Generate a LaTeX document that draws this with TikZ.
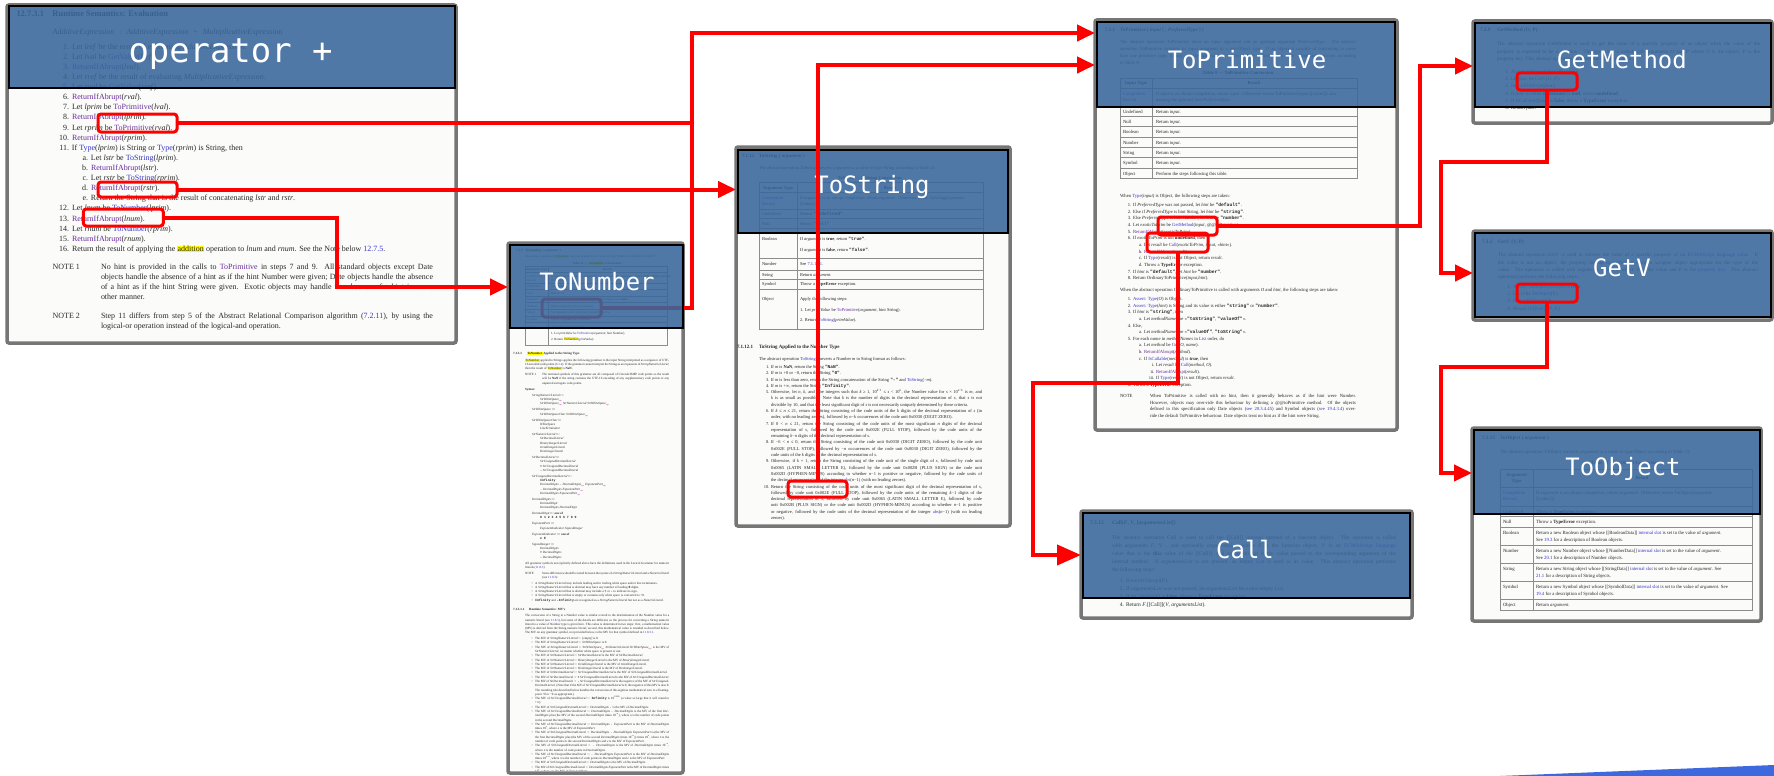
\documentclass[tikz,border=0pt]{standalone}
\usepackage{fontspec}
\setmainfont{Liberation Serif}
\newfontfamily\labelfont{DejaVu Sans Mono}
\newfontfamily\codefont{Liberation Mono}
\usetikzlibrary{arrows.meta}

\definecolor{ink}{RGB}{40,40,40}
\definecolor{lnk}{RGB}{52,52,200}
\definecolor{vis}{RGB}{105,45,155}
\definecolor{optc}{RGB}{190,40,150}
\definecolor{pageedge}{RGB}{118,118,118}
\definecolor{pagebg}{RGB}{251,251,250}
\definecolor{cover}{RGB}{56,103,156}
\definecolor{hilite}{RGB}{255,250,0}
\definecolor{wedge}{RGB}{62,104,222}
\definecolor{rule}{RGB}{140,140,140}

% inline markup of the specification pages
\newcommand\slink[1]{\textcolor{lnk}{#1}}
\newcommand\svis[1]{\textcolor{vis}{#1}}
\newcommand\scode[1]{{\codefont\bfseries #1}}
\newcommand\snum[1]{\llap{#1\hspace{0.36em}}}
\newcommand\sjust[2]{\makebox[#1bp][s]{#2}}
\newcommand\shl[1]{{\setlength{\fboxsep}{0.3bp}\colorbox{hilite}{#1}}}
\newcommand\sfont[2]{\fontsize{#1}{#2}\selectfont}
\newcommand\secno[2]{\makebox[#1bp][l]{#2}}
\newcommand\opt{\textsubscript{\textcolor{optc}{opt}}}
\newcommand\tnl[1]{\par\vspace{1.6bp}{\leftskip=19bp\noindent #1\par}}
\newcommand\tnr[1]{{\leftskip=27bp\noindent #1\par}}
\newcommand\tnb[1]{{\leftskip=22bp\noindent\llap{\textbullet\hspace{2.5bp}}#1\par}}

% font sizes of the individual pages
\newcommand\fOp{\sfont{8.0}{10}}
\newcommand\fTP{\sfont{4.7}{6.7}}
\newcommand\fGM{\sfont{5.1}{7.3}}
\newcommand\fCall{\sfont{5.5}{8}}
\newcommand\fTO{\sfont{4.8}{6}}
\newcommand\fTS{\sfont{4.5}{6}}
\newcommand\fTN{\sfont{3.2}{4.3}}

% one text line per list item, baselines dy apart
\newcommand\textlines[6]{%
  \foreach \lntxt [count=\lnidx from 0] in {#6}{%
    \node[ln, font=#2] (#1\lnidx) at ({#3},{#4+#5*\lnidx}) {\lntxt};}}
% table rows: y / first column / second column
\newcommand\tablerows[5]{%
  \foreach \rowy/\rowa/\rowb [count=\rowk] in {#5}{%
    \node[ln, font=#2] (#1a\rowk) at ({#3},{\rowy}) {\rowa};
    \node[ln, font=#2] (#1b\rowk) at ({#4},{\rowy}) {\rowb};}}

\tikzset{
  page/.style={draw=pageedge, line width=3.5bp, fill=pagebg, rounded corners=2bp,
    inner sep=0, outer sep=0, anchor=north west},
  coverbox/.style={draw=black, line width=2bp, fill=cover, fill opacity=0.88,
    draw opacity=1, inner sep=0, outer sep=0, anchor=north west},
  lbl/.style={anchor=base, text=white, inner sep=0},
  ln/.style={anchor=base west, inner sep=0, outer sep=0, text=ink},
  ctr/.style={anchor=base, inner sep=0, outer sep=0, text=ink},
  tbl/.style={draw=rule, line width=0.5bp},
  hl/.style={draw=red, line width=3bp, rounded corners=3bp, inner sep=0, outer sep=0},
  conn/.style={draw=red, line width=4bp},
  tip/.style={-{Triangle[length=18bp,width=16bp]}},
  tipbig/.style={-{Triangle[length=24bp,width=20bp]}},
  tnbody/.style={anchor=north west, inner sep=0, text width=156bp, align=justify,
    font=\fTN, text=ink}
}

\begin{document}
\begin{tikzpicture}[x=1bp, y=-1bp]
\useasboundingbox (0,0) rectangle (1774,776);
\fill[white] (0,0) rectangle (1774,776);

% ---------------- pages ----------------
\node[page, minimum width=449bp, minimum height=338bp] (pOp) at (7,5) {};
\node[page, minimum width=175bp, minimum height=530bp] (pTN) at (508,243) {};
\node[page, minimum width=274bp, minimum height=379bp] (pTS) at (736,147) {};
\node[page, minimum width=302bp, minimum height=410bp] (pTP) at (1095,20) {};
\node[page, minimum width=331bp, minimum height=107bp] (pCall) at (1081,511) {};
\node[page, minimum width=299bp, minimum height=102bp] (pGM) at (1473,21) {};
\node[page, minimum width=299bp, minimum height=89bp] (pGV) at (1473,231) {};
\node[page, minimum width=289bp, minimum height=193bp] (pTO) at (1472,428) {};

% ---------------- 12.7.3.1 Runtime Semantics: Evaluation ----------------
\node[ln, font=\sfont{8.5}{10}\bfseries] (opH) at (16.5,16.3) {\secno{36}{12.7.3.1}Runtime Semantics: Evaluation};
\node[ln, font=\fOp] (opG) at (52.7,35) {\emph{AdditiveExpression}\hspace{5bp}:\hspace{5bp}\emph{AdditiveExpression}\hspace{5bp}+\hspace{5bp}\emph{MultiplicativeExpression}};
\textlines{op}{\fOp}{72}{49.2}{10.11}{
  {\snum{1.}Let \emph{lref} be the result of evaluating \emph{AdditiveExpression}.},
  {\snum{2.}Let \emph{lval} be \slink{GetValue}(\emph{lref}).},
  {\snum{3.}\svis{ReturnIfAbrupt}(\emph{lval}).},
  {\snum{4.}Let \emph{rref} be the result of evaluating \emph{MultiplicativeExpression}.},
  {\snum{5.}Let \emph{rval} be \slink{GetValue}(\emph{rref}).},
  {\snum{6.}\svis{ReturnIfAbrupt}(\emph{rval}).},
  {\snum{7.}Let \emph{lprim} be \svis{ToPrimitive}(\emph{lval}).},
  {\snum{8.}\svis{ReturnIfAbrupt}(\emph{lprim}).},
  {\snum{9.}Let \emph{rprim} be \svis{ToPrimitive}(\emph{rval}).},
  {\snum{10.}\svis{ReturnIfAbrupt}(\emph{rprim}).},
  {\snum{11.}If \slink{Type}(\emph{lprim}) is String or \slink{Type}(\emph{rprim}) is String, then},
  {\hspace*{19bp}\snum{a.}Let \emph{lstr} be \slink{ToString}(\emph{lprim}).},
  {\hspace*{19bp}\snum{b.}\svis{ReturnIfAbrupt}(\emph{lstr}).},
  {\hspace*{19bp}\snum{c.}Let \emph{rstr} be \slink{ToString}(\emph{rprim}).},
  {\hspace*{19bp}\snum{d.}\svis{ReturnIfAbrupt}(\emph{rstr}).},
  {\hspace*{19bp}\snum{e.}Return the String that is the result of concatenating \emph{lstr} and \emph{rstr}.},
  {\snum{12.}Let \emph{lnum} be \slink{ToNumber}(\emph{lprim}).},
  {\snum{13.}\svis{ReturnIfAbrupt}(\emph{lnum}).},
  {\snum{14.}Let \emph{rnum} be \slink{ToNumber}(\emph{rprim}).},
  {\snum{15.}\svis{ReturnIfAbrupt}(\emph{rnum}).},
  {\snum{16.}Return the result of applying the \shl{addition} operation to \emph{lnum} and \emph{rnum}. See the Note below \slink{12.7.5}.}}
\node[ln, font=\fOp] (opN1) at (52.7,269.8) {NOTE 1};
\textlines{opa}{\fOp}{101}{269.8}{10}{
  {\sjust{332}{No hint is provided in the calls to \svis{ToPrimitive} in steps 7 and 9. All standard objects except Date}},
  {\sjust{332}{objects handle the absence of a hint as if the hint Number were given; Date objects handle the absence}},
  {\sjust{332}{of a hint as if the hint String were given. Exotic objects may handle the absence of a hint in some}},
  {other manner.}}
\node[ln, font=\fOp] (opN2) at (52.7,318.2) {NOTE 2};
\textlines{opb}{\fOp}{101}{318.2}{10}{
  {\sjust{332}{Step 11 differs from step 5 of the Abstract Relational Comparison algorithm (\slink{7.2.11}), by using the}},
  {logical-or operation instead of the logical-and operation.}}

% ---------------- 7.1.1 ToPrimitive ----------------
\node[ln, font=\sfont{5.1}{6}\bfseries] (tpH) at (1105,32) {\secno{15}{7.1.1}ToPrimitive ( \emph{input} [ , \emph{PreferredType} ] )};
\textlines{tpp}{\fTP}{1120}{44}{6.67}{
  {\sjust{236}{The abstract operation ToPrimitive takes an \emph{input} argument and an optional argument \emph{PreferredType}. The abstract}},
  {\sjust{236}{operation ToPrimitive converts its \emph{input} argument to a non-Object type. If an object is capable of converting to more}},
  {\sjust{236}{than one primitive type, it may use the optional hint \emph{PreferredType} to favour that type. Conversion occurs according}},
  {to Table 9:}}
\node[ctr, font=\sfont{4.8}{6}\bfseries] (tpCap) at (1238,75) {Table 9 — ToPrimitive Conversion};
\draw[tbl] (1120,78) rectangle (1357,178);
\draw[tbl] (1152,78) -- (1152,178);
\foreach \yy in {88,106,116,126,137,147,157,168} \draw[tbl] (1120,\yy) -- (1357,\yy);
\node[ctr, font=\fTP\bfseries] (tpTh1) at (1136,85) {Input Type};
\node[ctr, font=\fTP\bfseries] (tpTh2) at (1254,85) {Result};
\tablerows{tpt}{\fTP}{1123}{1156}{
  95/{\slink{Completion}}/{If \emph{input} is an abrupt completion, return \emph{input}. Otherwise return ToPrimitive(\emph{input}.[[value]]) also},
  101.5/{\slink{Record}}/{passing the optional hint \emph{PreferredType}.},
  113/Undefined/{Return \emph{input}.},
  123/Null/{Return \emph{input}.},
  133.5/Boolean/{Return \emph{input}.},
  144/Number/{Return \emph{input}.},
  154/String/{Return \emph{input}.},
  164.5/Symbol/{Return \emph{input}.},
  175/Object/{Perform the steps following this table.}}
\node[ln, font=\fTP] (tpW1) at (1120,197.5) {When \slink{Type}(\emph{input}) is Object, the following steps are taken:};
\textlines{tps}{\fTP}{1133}{206.6}{6.67}{
  {\snum{1.}If \emph{PreferredType} was not passed, let \emph{hint} be \scode{"default"}.},
  {\snum{2.}Else if \emph{PreferredType} is hint String, let \emph{hint} be \scode{"string"}.},
  {\snum{3.}Else \emph{PreferredType} is hint Number, let \emph{hint} be \scode{"number"}.},
  {\snum{4.}Let \emph{exoticToPrim} be \slink{GetMethod}(\emph{input}, @@toPrimitive).},
  {\snum{5.}\svis{ReturnIfAbrupt}(\emph{exoticToPrim}).},
  {\snum{6.}If \emph{exoticToPrim} is not \textbf{undefined}, then},
  {\hspace*{11bp}\snum{a.}Let \emph{result} be \slink{Call}(\emph{exoticToPrim}, \emph{input}, «\emph{hint}»).},
  {\hspace*{11bp}\snum{b.}\svis{ReturnIfAbrupt}(\emph{result}).},
  {\hspace*{11bp}\snum{c.}If \slink{Type}(\emph{result}) is not Object, return \emph{result}.},
  {\hspace*{11bp}\snum{d.}Throw a \textbf{TypeError} exception.},
  {\snum{7.}If \emph{hint} is \scode{"default"}, let \emph{hint} be \scode{"number"}.},
  {\snum{8.}Return OrdinaryToPrimitive(\emph{input},\emph{hint}).}}
\node[ln, font=\fTP] (tpW2) at (1120,291.6) {When the abstract operation OrdinaryToPrimitive is called with arguments \emph{O} and \emph{hint}, the following steps are taken:};
\textlines{tpo}{\fTP}{1133}{300.6}{6.615}{
  {\snum{1.}\slink{Assert}: \slink{Type}(\emph{O}) is Object.},
  {\snum{2.}\slink{Assert}: \slink{Type}(\emph{hint}) is String and its value is either \scode{"string"} or \scode{"number"}.},
  {\snum{3.}If \emph{hint} is \scode{"string"}, then},
  {\hspace*{11bp}\snum{a.}Let \emph{methodNames} be «\scode{"toString"}, \scode{"valueOf"}».},
  {\snum{4.}Else,},
  {\hspace*{11bp}\snum{a.}Let \emph{methodNames} be «\scode{"valueOf"}, \scode{"toString"}».},
  {\snum{5.}For each \emph{name} in \emph{methodNames} in \slink{List} order, do},
  {\hspace*{11bp}\snum{a.}Let \emph{method} be \slink{Get}(\emph{O}, \emph{name}).},
  {\hspace*{11bp}\snum{b.}\svis{ReturnIfAbrupt}(\emph{method}).},
  {\hspace*{11bp}\snum{c.}If \slink{IsCallable}(\emph{method}) is \textbf{true}, then},
  {\hspace*{23bp}\snum{i.}Let \emph{result} be \slink{Call}(\emph{method}, \emph{O}).},
  {\hspace*{23bp}\snum{ii.}\svis{ReturnIfAbrupt}(\emph{result}).},
  {\hspace*{23bp}\snum{iii.}If \slink{Type}(\emph{result}) is not Object, return \emph{result}.},
  {\snum{6.}Throw a \textbf{TypeError} exception.}}
\node[ln, font=\fTP] (tpNote) at (1120,397.6) {NOTE};
\textlines{tpn}{\fTP}{1150}{397.6}{6.67}{
  {\sjust{206}{When ToPrimitive is called with no hint, then it generally behaves as if the hint were Number.}},
  {\sjust{206}{However, objects may over-ride this behaviour by defining a @@toPrimitive method. Of the objects}},
  {\sjust{206}{defined in this specification only Date objects (\slink{see 20.3.4.45}) and Symbol objects (\slink{see 19.4.3.4}) over-}},
  {ride the default ToPrimitive behaviour. Date objects treat no hint as if the hint were String.}}

% ---------------- 7.3.9 GetMethod ----------------
\node[ln, font=\sfont{5.3}{6}\bfseries] (gmH) at (1480,32) {\secno{17}{7.3.9}GetMethod (O, P)};
\textlines{gmp}{\fGM}{1497}{45.7}{7.65}{
  {\sjust{263}{The abstract operation GetMethod is used to get the value of a specific property of an object when the value of the}},
  {\sjust{263}{property is expected to be a function. The operation is called with arguments \emph{O} and \emph{P} where \emph{O} is the object, \emph{P} is the}},
  {property key. This abstract operation performs the following steps:}}
\textlines{gms}{\fGM}{1511}{73.4}{7.3}{
  {\snum{1.}\slink{Assert}: \slink{IsPropertyKey}(\emph{P}) is \textbf{true}.},
  {\snum{2.}Let \emph{func} be \slink{GetV}(\emph{O}, \emph{P}).},
  {\snum{3.}\svis{ReturnIfAbrupt}(\emph{func}).},
  {\snum{4.}If \emph{func} is either \textbf{undefined} or \textbf{null}, return \textbf{undefined}.},
  {\snum{5.}If \slink{IsCallable}(\emph{func}) is \textbf{false}, throw a \textbf{TypeError} exception.},
  {\snum{6.}Return \emph{func}.}}

% ---------------- 7.3.2 GetV ----------------
\node[ln, font=\sfont{5.3}{6}\bfseries] (gvH) at (1482,243.4) {\secno{16}{7.3.2}GetV (V, P)};
\textlines{gvp}{\fGM}{1498}{256.7}{7.33}{
  {\sjust{260}{The abstract operation GetV is used to retrieve the value of a specific property of an \slink{ECMAScript language value}. If}},
  {\sjust{260}{the value is not an object, the property lookup is performed using a wrapper object appropriate for the type of the}},
  {\sjust{260}{value. The operation is called with arguments \emph{V} and \emph{P} where \emph{V} is the value and \emph{P} is the \slink{property key}. This abstract}},
  {operation performs the following steps:}}
\textlines{gvs}{\fGM}{1513}{288.4}{7.2}{
  {\snum{1.}\slink{Assert}: \slink{IsPropertyKey}(\emph{P}) is \textbf{true}.},
  {\snum{2.}Let \emph{O} be \slink{ToObject}(\emph{V}).},
  {\snum{3.}\svis{ReturnIfAbrupt}(\emph{O}).},
  {\snum{4.}Return \emph{O}.[[Get]](\emph{P}, \emph{V}).}}

% ---------------- 7.3.12 Call ----------------
\node[ln, font=\sfont{5.6}{6}\bfseries] (caH) at (1090,524.7) {\secno{22}{7.3.12}Call(\emph{F}, \emph{V}, [\emph{argumentsList}])};
\textlines{cap}{\fCall}{1112}{539.7}{8}{
  {\sjust{284}{The abstract operation Call is used to call the [[Call]] internal method of a function object. The operation is called}},
  {\sjust{284}{with arguments \emph{F}, \emph{V} , and optionally \emph{argumentsList} where \emph{F} is the function object, \emph{V} is an \slink{ECMAScript language}}},
  {\sjust{284}{value that is the \textbf{this} value of the [[Call]], and \emph{argumentsList} is the value passed to the corresponding argument of the}},
  {\sjust{284}{internal method. If \emph{argumentsList} is not present, an empty \slink{List} is used as its value. This abstract operation performs}},
  {the following steps:}}
\textlines{cas}{\fCall}{1126}{582.3}{8}{
  {\snum{1.}\svis{ReturnIfAbrupt}(\emph{F}).},
  {\snum{2.}If \emph{argumentsList} was not passed, let \emph{argumentsList} be a new empty \slink{List}.},
  {\snum{3.}If \slink{IsCallable}(\emph{F}) is \textbf{false}, throw a \textbf{TypeError} exception.},
  {\snum{4.}Return \emph{F}.[[Call]](\emph{V}, \emph{argumentsList}).}}

% ---------------- 7.1.13 ToObject ----------------
\node[ln, font=\sfont{5.2}{6}\bfseries] (toH) at (1482,439) {\secno{18}{7.1.13}ToObject ( \emph{argument} )};
\node[ln, font=\fTO] (toP) at (1500,453.5) {The abstract operation ToObject converts \emph{argument} to a value of type Object according to Table 13:};
\node[ctr, font=\fTO\bfseries] (toCap) at (1626,464.5) {Table 13 — ToObject Conversions};
\draw[tbl] (1500,469.3) rectangle (1752,610);
\draw[tbl] (1533,469.3) -- (1533,610);
\foreach \yy in {487.3,506,516,527.3,545.3,563.3,581.3,599.3} \draw[tbl] (1500,\yy) -- (1752,\yy);
\node[ctr, font=\fTO\bfseries] (toTh1) at (1516.5,476.5) {Argument};
\node[ctr, font=\fTO\bfseries] (toTh2) at (1516.5,482.5) {Type};
\node[ctr, font=\fTO\bfseries] (toTh3) at (1642,479.5) {Result};
\tablerows{tot}{\fTO}{1503}{1536}{
  494/{\slink{Completion}}/{If \emph{argument} is an abrupt completion, return \emph{argument}. Otherwise return ToObject(\emph{argument}.},
  500.5/{\slink{Record}}/{[[value]]).},
  513/Undefined/{Throw a \textbf{TypeError} exception.},
  523.5/Null/{Throw a \textbf{TypeError} exception.},
  534.5/Boolean/{Return a new Boolean object whose [[BooleanData]] \slink{internal slot} is set to the value of \emph{argument}.},
  541.5/{}/{See \slink{19.3} for a description of Boolean objects.},
  552.5/Number/{Return a new Number object whose [[NumberData]] \slink{internal slot} is set to the value of \emph{argument}.},
  559.5/{}/{See \slink{20.1} for a description of Number objects.},
  570.5/String/{Return a new String object whose [[StringData]] \slink{internal slot} is set to the value of \emph{argument}. See},
  577.5/{}/{\slink{21.1} for a description of String objects.},
  588.5/Symbol/{Return a new Symbol object whose [[SymbolData]] \slink{internal slot} is set to the value of \emph{argument}. See},
  595.5/{}/{\slink{19.4} for a description of Symbol objects.},
  606.5/Object/{Return \emph{argument}.}}

% ---------------- 7.1.12 ToString ----------------
\node[ln, font=\sfont{5}{6}\bfseries] (tsH) at (742,157) {\secno{17}{7.1.12}ToString ( \emph{argument} )};
\node[ln, font=\fTS] (tsP) at (759,169) {The abstract operation ToString converts \emph{argument} to a value of type String according to Table 12:};
\node[ctr, font=\fTS\bfseries] (tsCap) at (870,179.5) {Table 12 — ToString Conversions};
\draw[tbl] (759,182.7) rectangle (983,329.3);
\draw[tbl] (797,182.7) -- (797,329.3);
\foreach \yy in {192.3,209,218.3,228.3,258.3,270,279.3,289} \draw[tbl] (759,\yy) -- (983,\yy);
\node[ctr, font=\fTS\bfseries] (tsTh1) at (778,189.5) {Argument Type};
\node[ctr, font=\fTS\bfseries] (tsTh2) at (890,189.5) {Result};
\tablerows{tst}{\fTS}{762}{800}{
  199/{\slink{Completion}}/{If \emph{argument} is an abrupt completion, return \emph{argument}. Otherwise return ToString(\emph{argument}.},
  205.5/{\slink{Record}}/{[[value]]).},
  215.5/Undefined/{Return \scode{"undefined"}.},
  225/Null/{Return \scode{"null"}.},
  240/Boolean/{If \emph{argument} is \textbf{true}, return \scode{"true"}.},
  251/{}/{If \emph{argument} is \textbf{false}, return \scode{"false"}.},
  265.5/Number/{See \slink{7.1.12.1}.},
  276/String/{Return \emph{argument}.},
  285.5/Symbol/{Throw a \textbf{TypeError} exception.},
  300/Object/{Apply the following steps:},
  311/{}/{1. Let \emph{primValue} be \svis{ToPrimitive}(\emph{argument}, hint String).},
  321.5/{}/{2. Return \slink{ToString}(\emph{primValue}).}}
\node[ln, font=\sfont{5}{6}\bfseries] (tsH2) at (737,348.5) {\secno{22}{7.1.12.1}ToString Applied to the Number Type};
\node[ln, font=\fTS] (tsP2) at (759,360.5) {The abstract operation \slink{ToString} converts a Number \emph{m} to String format as follows:};
\textlines{tss}{\fTS}{771}{368.5}{6.29}{
  {\snum{1.}If \emph{m} is \textbf{NaN}, return the String \scode{"NaN"}.},
  {\snum{2.}If \emph{m} is +0 or −0, return the String \scode{"0"}.},
  {\snum{3.}If \emph{m} is less than zero, return the String concatenation of the String \scode{"-"} and \slink{ToString}(−\emph{m}).},
  {\snum{4.}If \emph{m} is +∞, return the String \scode{"Infinity"}.},
  {\snum{5.}\sjust{211}{Otherwise, let \emph{n}, \emph{k}, and \emph{s} be integers such that \emph{k} ≥ 1, 10\textsuperscript{\emph{k}−1} ≤ \emph{s} < 10\textsuperscript{\emph{k}}, the Number value for \emph{s} × 10\textsuperscript{\emph{n}−\emph{k}} is \emph{m}, and}},
  {\sjust{211}{\emph{k} is as small as possible. Note that \emph{k} is the number of digits in the decimal representation of \emph{s}, that \emph{s} is not}},
  {divisible by 10, and that the least significant digit of \emph{s} is not necessarily uniquely determined by these criteria.},
  {\snum{6.}\sjust{211}{If \emph{k} ≤ \emph{n} ≤ 21, return the String consisting of the code units of the \emph{k} digits of the decimal representation of \emph{s} (in}},
  {order, with no leading zeroes), followed by \emph{n}−\emph{k} occurrences of the code unit 0x0030 (DIGIT ZERO).},
  {\snum{7.}\sjust{211}{If 0 < \emph{n} ≤ 21, return the String consisting of the code units of the most significant \emph{n} digits of the decimal}},
  {\sjust{211}{representation of \emph{s}, followed by the code unit 0x002E (FULL STOP), followed by the code units of the}},
  {remaining \emph{k}−\emph{n} digits of the decimal representation of \emph{s}.},
  {\snum{8.}\sjust{211}{If −6 < \emph{n} ≤ 0, return the String consisting of the code unit 0x0030 (DIGIT ZERO), followed by the code unit}},
  {\sjust{211}{0x002E (FULL STOP), followed by −\emph{n} occurrences of the code unit 0x0030 (DIGIT ZERO), followed by the}},
  {code units of the \emph{k} digits of the decimal representation of \emph{s}.},
  {\snum{9.}\sjust{211}{Otherwise, if \emph{k} = 1, return the String consisting of the code unit of the single digit of \emph{s}, followed by code unit}},
  {\sjust{211}{0x0065 (LATIN SMALL LETTER E), followed by the code unit 0x002B (PLUS SIGN) or the code unit}},
  {\sjust{211}{0x002D (HYPHEN-MINUS) according to whether \emph{n}−1 is positive or negative, followed by the code units of}},
  {the decimal representation of the integer \slink{abs}(\emph{n}−1) (with no leading zeroes).},
  {\snum{10.}\sjust{211}{Return the String consisting of the code units of the most significant digit of the decimal representation of \emph{s},}},
  {\sjust{211}{followed by code unit 0x002E (FULL STOP), followed by the code units of the remaining \emph{k}−1 digits of the}},
  {\sjust{211}{decimal representation of \emph{s}, followed by code unit 0x0065 (LATIN SMALL LETTER E), followed by code}},
  {\sjust{211}{unit 0x002B (PLUS SIGN) or the code unit 0x002D (HYPHEN-MINUS) according to whether \emph{n}−1 is positive}},
  {\sjust{211}{or negative, followed by the code units of the decimal representation of the integer \slink{abs}(\emph{n}−1) (with no leading}},
  {zeroes).}}

% ---------------- 7.1.3 ToNumber ----------------
\node[ln, font=\sfont{3.5}{4.3}\bfseries] (tnH) at (516,251.5) {\secno{9}{7.1.3}\shl{ToNumber} ( \emph{argument} )};
\node[ln, font=\fTN] (tnP) at (525,257.5) {The abstract operation \shl{ToNumber} converts \emph{argument} to a value of type Number according to Table 11:};
\node[ctr, font=\fTN\bfseries] (tnCap) at (597,264.3) {Table 11 — \shl{ToNumber} Conversions};
\draw[tbl] (525,266.7) rectangle (667,345);
\draw[tbl] (548,266.7) -- (548,345);
\foreach \yy in {272.7,283.3,289.3,296,302.7,309.3,316,322.7} \draw[tbl] (525,\yy) -- (667,\yy);
\node[ctr, font=\fTN\bfseries] (tnTh1) at (536.5,270.8) {Argument Type};
\node[ctr, font=\fTN\bfseries] (tnTh2) at (607.5,270.8) {Result};
\tablerows{tnt}{\fTN}{527}{551}{
  277.3/{\slink{Completion}}/{If \emph{argument} is an abrupt completion, return \emph{argument}. Otherwise return \shl{ToNumber}(\emph{argument}.},
  281.6/{\slink{Record}}/{[[value]]).},
  287.5/Undefined/{Return \textbf{NaN}.},
  294/Null/{Return +0.},
  300.5/Boolean/{Return 1 if \emph{argument} is \textbf{true}. Return +0 if \emph{argument} is \textbf{false}.},
  307.2/Number/{Return \emph{argument} (no conversion).},
  313.8/String/{See grammar and conversion algorithm below.},
  320.5/Symbol/{Throw a \textbf{TypeError} exception.},
  328.5/Object/{Apply the following steps:},
  334.5/{}/{1. Let \emph{primValue} be \slink{ToPrimitive}(\emph{argument}, hint Number).},
  340/{}/{2. Return \shl{ToNumber}(\emph{primValue}).}}
\begin{scope}
\clip (510,348) rectangle (681,770);
\node[tnbody] (tnBody) at (513,352) {%
{\bfseries\secno{14}{7.1.3.1}\shl{ToNumber} Applied to the String Type\par}
\vspace{2.2bp}
{\leftskip=12bp\noindent\shl{ToNumber} applied to Strings applies the following grammar to the input String interpreted as a sequence of UTF-16 encoded code points (\slink{6.1.4}). If the grammar cannot interpret the String as an expansion of \emph{StringNumericLiteral}, then the result of \shl{ToNumber} is \textbf{NaN}.\par}
\vspace{1.6bp}
{\leftskip=29bp\noindent\llap{\makebox[17bp][l]{NOTE 1}}The terminal symbols of this grammar are all composed of Unicode BMP code points so the result will be \textbf{NaN} if the string contains the UTF-16 encoding of any supplementary code points or any unpaired surrogate code points.\par}
\vspace{2bp}
{\leftskip=12bp\noindent\bfseries Syntax\par}
\tnl{\emph{StringNumericLiteral} \textbf{:::}}
\tnr{\emph{StrWhiteSpace}\opt}
\tnr{\emph{StrWhiteSpace}\opt{} \emph{StrNumericLiteral} \emph{StrWhiteSpace}\opt}
\tnl{\emph{StrWhiteSpace} \textbf{:::}}
\tnr{\emph{StrWhiteSpaceChar} \emph{StrWhiteSpace}\opt}
\tnl{\emph{StrWhiteSpaceChar} \textbf{:::}}
\tnr{\emph{WhiteSpace}}
\tnr{\emph{LineTerminator}}
\tnl{\emph{StrNumericLiteral} \textbf{:::}}
\tnr{\emph{StrDecimalLiteral}}
\tnr{\emph{BinaryIntegerLiteral}}
\tnr{\emph{OctalIntegerLiteral}}
\tnr{\emph{HexIntegerLiteral}}
\tnl{\emph{StrDecimalLiteral} \textbf{:::}}
\tnr{\emph{StrUnsignedDecimalLiteral}}
\tnr{\scode{+} \emph{StrUnsignedDecimalLiteral}}
\tnr{\scode{-} \emph{StrUnsignedDecimalLiteral}}
\tnl{\emph{StrUnsignedDecimalLiteral} \textbf{:::}}
\tnr{\scode{Infinity}}
\tnr{\emph{DecimalDigits} \scode{.} \emph{DecimalDigits}\opt{} \emph{ExponentPart}\opt}
\tnr{\scode{.} \emph{DecimalDigits} \emph{ExponentPart}\opt}
\tnr{\emph{DecimalDigits} \emph{ExponentPart}\opt}
\tnl{\emph{DecimalDigits} \textbf{:::}}
\tnr{\emph{DecimalDigit}}
\tnr{\emph{DecimalDigits} \emph{DecimalDigit}}
\tnl{\emph{DecimalDigit} \textbf{:::} \textbf{one of}}
\tnr{\scode{0 1 2 3 4 5 6 7 8 9}}
\tnl{\emph{ExponentPart} \textbf{:::}}
\tnr{\emph{ExponentIndicator} \emph{SignedInteger}}
\tnl{\emph{ExponentIndicator} \textbf{:::} \textbf{one of}}
\tnr{\scode{e E}}
\tnl{\emph{SignedInteger} \textbf{:::}}
\tnr{\emph{DecimalDigits}}
\tnr{\scode{+} \emph{DecimalDigits}}
\tnr{\scode{-} \emph{DecimalDigits}}
\vspace{2bp}
{\leftskip=12bp\noindent All grammar symbols not explicitly defined above have the definitions used in the Lexical Grammar for numeric literals (\slink{11.8.3})\par}
\vspace{1.6bp}
{\leftskip=29bp\noindent\llap{\makebox[17bp][l]{NOTE}}Some differences should be noted between the syntax of a \emph{StringNumericLiteral} and a \emph{NumericLiteral} (see \slink{11.8.3}):\par}
\vspace{1bp}
{\leftskip=8bp
\tnb{A \emph{StringNumericLiteral} may include leading and/or trailing white space and/or line terminators.}
\tnb{A \emph{StringNumericLiteral} that is decimal may have any number of leading \scode{0} digits.}
\tnb{A \emph{StringNumericLiteral} that is decimal may include a \scode{+} or \scode{-} to indicate its sign.}
\tnb{A \emph{StringNumericLiteral} that is empty or contains only white space is converted to +0.}
\tnb{\scode{Infinity} and \scode{-Infinity} are recognized as a \emph{StringNumericLiteral} but not as a \emph{NumericLiteral}.}}
\vspace{5bp}
{\bfseries\secno{16}{7.1.3.1.1}Runtime Semantics: MV's\par}
\vspace{2bp}
{\leftskip=12bp\noindent The conversion of a String to a Number value is similar overall to the determination of the Number value for a numeric literal (see \slink{11.8.3}), but some of the details are different, so the process for converting a String numeric literal to a value of Number type is given here. This value is determined in two steps: first, a mathematical value (MV) is derived from the String numeric literal; second, this mathematical value is rounded as described below. The MV on any grammar symbol, not provided below, is the MV for that symbol defined in \slink{11.8.3.1}.\par}
\vspace{1.5bp}
\tnb{The MV of \emph{StringNumericLiteral} ::: [empty] is 0.}
\tnb{The MV of \emph{StringNumericLiteral} ::: \emph{StrWhiteSpace} is 0.}
\tnb{The MV of \emph{StringNumericLiteral} ::: \emph{StrWhiteSpace}\opt{} \emph{StrNumericLiteral} \emph{StrWhiteSpace}\opt{} is the MV of \emph{StrNumericLiteral}, no matter whether white space is present or not.}
\tnb{The MV of \emph{StrNumericLiteral} ::: \emph{StrDecimalLiteral} is the MV of \emph{StrDecimalLiteral}.}
\tnb{The MV of \emph{StrNumericLiteral} ::: \emph{BinaryIntegerLiteral} is the MV of \emph{BinaryIntegerLiteral}.}
\tnb{The MV of \emph{StrNumericLiteral} ::: \emph{OctalIntegerLiteral} is the MV of \emph{OctalIntegerLiteral}.}
\tnb{The MV of \emph{StrNumericLiteral} ::: \emph{HexIntegerLiteral} is the MV of \emph{HexIntegerLiteral}.}
\tnb{The MV of \emph{StrDecimalLiteral} ::: \emph{StrUnsignedDecimalLiteral} is the MV of \emph{StrUnsignedDecimalLiteral}.}
\tnb{The MV of \emph{StrDecimalLiteral} ::: \scode{+} \emph{StrUnsignedDecimalLiteral} is the MV of \emph{StrUnsignedDecimalLiteral}.}
\tnb{The MV of \emph{StrDecimalLiteral} ::: \scode{-} \emph{StrUnsignedDecimalLiteral} is the negative of the MV of \emph{StrUnsignedDecimalLiteral}. (Note that if the MV of \emph{StrUnsignedDecimalLiteral} is 0, the negative of this MV is also 0. The rounding rule described below handles the conversion of this signless mathematical zero to a floating-point +0 or −0 as appropriate.)}
\tnb{The MV of \emph{StrUnsignedDecimalLiteral} ::: \scode{Infinity} is 10\textsuperscript{10000} (a value so large that it will round to +∞).}
\tnb{The MV of \emph{StrUnsignedDecimalLiteral} ::: \emph{DecimalDigits} \scode{.} is the MV of \emph{DecimalDigits}.}
\tnb{The MV of \emph{StrUnsignedDecimalLiteral} ::: \emph{DecimalDigits} \scode{.} \emph{DecimalDigits} is the MV of the first \emph{DecimalDigits} plus (the MV of the second \emph{DecimalDigits} times 10\textsuperscript{−\emph{n}}), where \emph{n} is the number of code points in the second \emph{DecimalDigits}.}
\tnb{The MV of \emph{StrUnsignedDecimalLiteral} ::: \emph{DecimalDigits} \scode{.} \emph{ExponentPart} is the MV of \emph{DecimalDigits} times 10\textsuperscript{\emph{e}}, where \emph{e} is the MV of \emph{ExponentPart}.}
\tnb{The MV of \emph{StrUnsignedDecimalLiteral} ::: \emph{DecimalDigits} \scode{.} \emph{DecimalDigits} \emph{ExponentPart} is (the MV of the first \emph{DecimalDigits} plus (the MV of the second \emph{DecimalDigits} times 10\textsuperscript{−\emph{n}})) times 10\textsuperscript{\emph{e}}, where \emph{n} is the number of code points in the second \emph{DecimalDigits} and \emph{e} is the MV of \emph{ExponentPart}.}
\tnb{The MV of \emph{StrUnsignedDecimalLiteral} ::: \scode{.} \emph{DecimalDigits} is the MV of \emph{DecimalDigits} times 10\textsuperscript{−\emph{n}}, where \emph{n} is the number of code points in \emph{DecimalDigits}.}
\tnb{The MV of \emph{StrUnsignedDecimalLiteral} ::: \scode{.} \emph{DecimalDigits} \emph{ExponentPart} is the MV of \emph{DecimalDigits} times 10\textsuperscript{\emph{e}−\emph{n}}, where \emph{n} is the number of code points in \emph{DecimalDigits} and \emph{e} is the MV of \emph{ExponentPart}.}
\tnb{The MV of \emph{StrUnsignedDecimalLiteral} ::: \emph{DecimalDigits} is the MV of \emph{DecimalDigits}.}
\tnb{The MV of \emph{StrUnsignedDecimalLiteral} ::: \emph{DecimalDigits} \emph{ExponentPart} is the MV of \emph{DecimalDigits} times 10\textsuperscript{\emph{e}}, where \emph{e} is the MV of \emph{ExponentPart}.}
};
\end{scope}

% ---------------- marks and links lying under the ToNumber header ----------------
\node[hl, minimum width=59bp, minimum height=18bp] (bn) at (571.5,308) {};
\coordinate (jA) at (692,33);
\draw[conn] (bn.east) -| (jA);

% ---------------- header covers with their titles ----------------
\node[coverbox, minimum width=446bp, minimum height=82bp] (cOp) at (9,6) {};
\node[coverbox, minimum width=173bp, minimum height=83bp] (cTN) at (509.5,245) {};
\node[coverbox, minimum width=270bp, minimum height=83bp] (cTS) at (738,150) {};
\node[coverbox, minimum width=298bp, minimum height=85bp] (cTP) at (1097,22) {};
\node[coverbox, minimum width=327bp, minimum height=85bp] (cCall) at (1083,513) {};
\node[coverbox, minimum width=296bp, minimum height=84bp] (cGM) at (1475,23) {};
\node[coverbox, minimum width=296bp, minimum height=84bp] (cGV) at (1475,233) {};
\node[coverbox, minimum width=286bp, minimum height=84bp] (cTO) at (1474,430) {};

\node[lbl, font=\labelfont\fontsize{34}{34}\selectfont] (lOp) at (230.5,62.4) {operator +};
\node[lbl, font=\labelfont\fontsize{24}{24}\selectfont] (lTN) at (597,290.8) {ToNumber};
\node[lbl, font=\labelfont\fontsize{24}{24}\selectfont] (lTS) at (872,193.8) {ToString};
\node[lbl, font=\labelfont\fontsize{24}{24}\selectfont] (lTP) at (1247,68.8) {ToPrimitive};
\node[lbl, font=\labelfont\fontsize{24}{24}\selectfont] (lGM) at (1622,68.8) {GetMethod};
\node[lbl, font=\labelfont\fontsize{24}{24}\selectfont] (lGV) at (1622,276.8) {GetV};
\node[lbl, font=\labelfont\fontsize{24}{24}\selectfont] (lCall) at (1245,558.8) {Call};
\node[lbl, font=\labelfont\fontsize{24}{24}\selectfont] (lTO) at (1623,475.8) {ToObject};

% ---------------- marked call sites ----------------
\node[hl, minimum width=79bp, minimum height=18bp] (b9) at (137.5,123) {};
\node[hl, minimum width=79bp, minimum height=15bp] (bd) at (137.5,189.5) {};
\node[hl, minimum width=80bp, minimum height=17bp] (b13) at (123.3,217.5) {};
\node[hl, minimum width=59bp, minimum height=16bp] (bs) at (817.5,489) {};
\node[hl, minimum width=59bp, minimum height=18bp] (bg) at (1187.5,226) {};
\node[hl, minimum width=61bp, minimum height=19bp] (bc) at (1177.5,242.5) {};
\node[hl, minimum width=60bp, minimum height=17bp] (bv) at (1547,81.5) {};
\node[hl, minimum width=60bp, minimum height=18bp] (bo) at (1547,293) {};

% ---------------- call links ----------------
\coordinate (tpA) at (1095,33);
\coordinate (jB) at (337,287);
\coordinate (tnIn) at (508,287);
\coordinate (tsIn) at (736,189.5);
\coordinate (tpB) at (1095,65);
\coordinate (jC) at (1420,66);
\coordinate (gmIn) at (1473,66);
\coordinate (jD) at (1033,383);
\coordinate (callIn) at (1081,555);
\coordinate (jE) at (1441,162);
\coordinate (gvIn) at (1473,273);
\coordinate (jF) at (1441,367);
\coordinate (toIn) at (1472,473);

\draw[conn, tip] (b9.east) -| (jA) -- (tpA);
\draw[conn, tip] (bd.east) -- (bd.east -| tsIn);
\draw[conn, tip] (b13.east) -| (jB) -- (tnIn);
\draw[conn, tip] (bs.north) |- (tpB);
\draw[conn, tip] (bg.east) -| (jC) -- (gmIn);
\draw[conn, tipbig] (bc.south) |- (jD) |- (callIn);
\draw[conn, tip] (bv.south) |- (jE) |- (gvIn);
\draw[conn, tip] (bo.south) |- (jF) |- (toIn);

% corner ribbon
\fill[wedge] (1500,776) -- (1774,765) -- (1774,776) -- cycle;
\end{tikzpicture}
\end{document}
